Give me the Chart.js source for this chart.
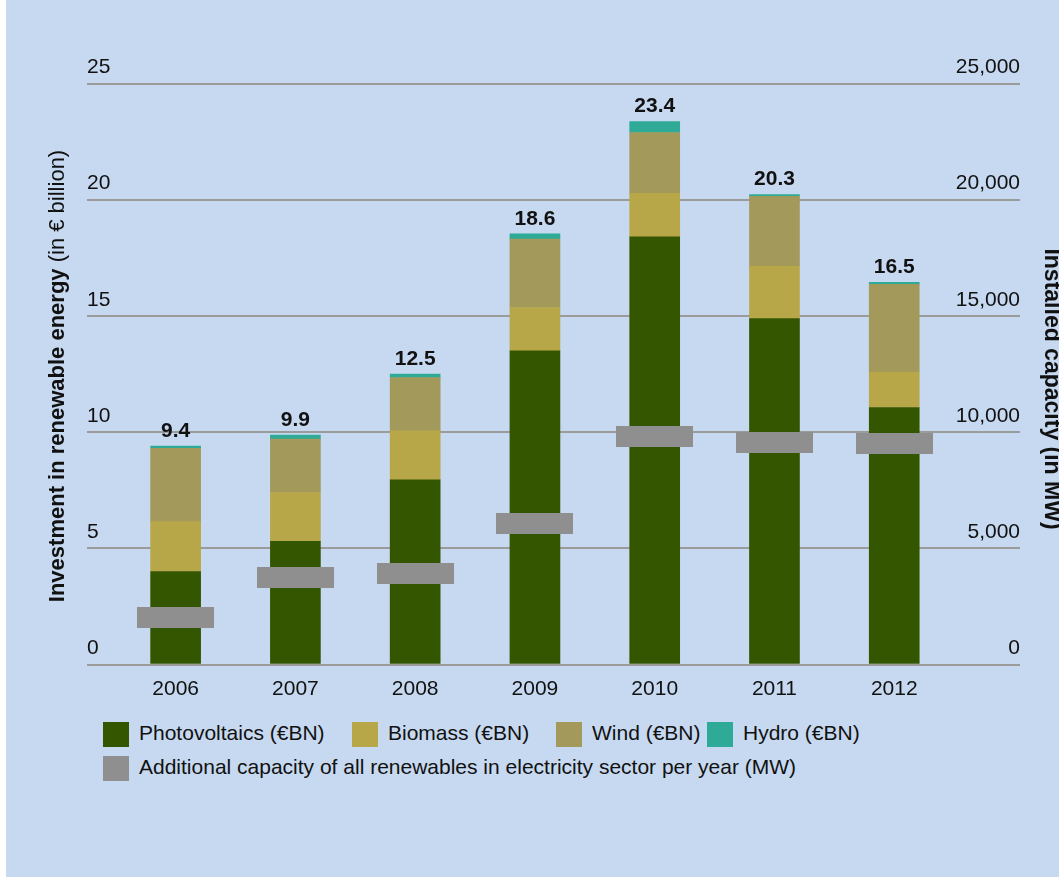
<!DOCTYPE html>
<html>
<head>
<meta charset="utf-8">
<script src="https://cdn.jsdelivr.net/npm/chart.js@4.4.1/dist/chart.umd.min.js"></script>
<style>
  html, body { margin: 0; padding: 0; background: #fff; }
  #wrap { position: absolute; left: 6px; top: 0; width: 1053px; height: 877px; background: #c6d9f0; overflow: hidden; }
  #chart { position: absolute; left: 0; top: 0; }
  .box { position: absolute; width: 26px; height: 25px; }
  .lbl { position: absolute; font: 21px "Liberation Sans", Arial, sans-serif; line-height: 25px; color: #111; white-space: nowrap; }
</style>
</head>
<body>
<div id="wrap">
  <canvas id="chart" width="1053" height="710"></canvas>
  <div id="legend"></div>
</div>
<script>
// data
const years = ["2006", "2007", "2008", "2009", "2010", "2011", "2012"];
const photovoltaics = [4.0, 5.3, 7.95, 13.5, 18.4, 14.89, 11.06];
const biomass = [2.15, 2.1, 2.1, 1.86, 1.87, 2.24, 1.52];
const wind = [3.15, 2.3, 2.3, 2.95, 2.62, 3.01, 3.78];
const hydro = [0.1, 0.17, 0.15, 0.22, 0.47, 0.08, 0.08];
const totals = ["9.4", "9.9", "12.5", "18.6", "23.4", "20.3", "16.5"];
const capacityMW = [2030, 3750, 3920, 6070, 9800, 9570, 9510];

const FONT = '"Liberation Sans", Arial, sans-serif';
const colors = {
    pv: "#345600",
    bio: "#b7a748",
    wind: "#a2995a",
    hydro: "#2eaa96",
    cap: "#8f8f8f"
};

function pts(arr) {
    return arr.map((v, i) => ({ x: i, y: v }));
}

// grey capacity marker
const marker = document.createElement("canvas");
marker.width = 77;
marker.height = 21;
let mctx = marker.getContext("2d");
mctx.fillStyle = colors.cap;
mctx.fillRect(0, 0, 77, 21);

/* -------------------------------
   PLUGINS
---------------------------------*/

const totalsPlugin = {
    id: "totals",
    afterDatasetsDraw(chart) {
        const ctx = chart.ctx;
        const meta = chart.getDatasetMeta(3);
        ctx.save();
        ctx.font = "bold 21px " + FONT;
        ctx.fillStyle = "#111";
        ctx.textAlign = "center";
        ctx.textBaseline = "middle";
        meta.data.forEach((bar, i) => {
            ctx.fillText(totals[i], bar.x, bar.y - 15);
        });
        ctx.restore();
    }
};

const titlesPlugin = {
    id: "titles",
    afterDraw(chart) {
        const ctx = chart.ctx;
        ctx.save();
        ctx.fillStyle = "#111";
        ctx.textBaseline = "middle";
        ctx.textAlign = "left";

        // left title, bold + normal part
        const bold = "Investment in renewable energy";
        const rest = " (in \u20ac billion)";
        ctx.font = "bold 22px " + FONT;
        let w1 = ctx.measureText(bold).width;
        ctx.font = "22px " + FONT;
        let w2 = ctx.measureText(rest).width;
        ctx.translate(51.5, 376);
        ctx.rotate(-Math.PI / 2);
        let x0 = -(w1 + w2) / 2;
        ctx.font = "bold 22px " + FONT;
        ctx.fillText(bold, x0, 0);
        ctx.font = "22px " + FONT;
        ctx.fillText(rest, x0 + w1, 0);
        ctx.restore();

        // right title
        ctx.save();
        ctx.fillStyle = "#111";
        ctx.textBaseline = "middle";
        ctx.textAlign = "center";
        ctx.font = "bold 23px " + FONT;
        ctx.translate(1045, 389);
        ctx.rotate(Math.PI / 2);
        ctx.fillText("Installed capacity (in MW)", 0, 0);
        ctx.restore();
    }
};

/* -------------------------------
   CHART
---------------------------------*/

const tickFont = { family: FONT, size: 21 };

new Chart(document.getElementById("chart"), {
    type: "bar",
    data: {
        datasets: [
            { label: "Photovoltaics (\u20acBN)", data: pts(photovoltaics), backgroundColor: colors.pv, order: 1 },
            { label: "Biomass (\u20acBN)", data: pts(biomass), backgroundColor: colors.bio, order: 1 },
            { label: "Wind (\u20acBN)", data: pts(wind), backgroundColor: colors.wind, order: 1 },
            { label: "Hydro (\u20acBN)", data: pts(hydro), backgroundColor: colors.hydro, order: 1 },
            {
                type: "line",
                label: "Additional capacity of all renewables in electricity sector per year (MW)",
                data: pts(capacityMW),
                yAxisID: "y2",
                showLine: false,
                pointStyle: marker,
                pointRadius: 10,
                order: 0
            }
        ]
    },
    options: {
        responsive: false,
        animation: false,
        barThickness: 50,
        layout: { padding: { left: 81, right: 39, top: 83.5, bottom: 5.5 } },
        plugins: {
            legend: { display: false },
            tooltip: { enabled: false }
        },
        scales: {
            x: {
                type: "linear",
                min: -0.74,
                max: 7.05,
                offset: false,
                stacked: true,
                grid: { display: false },
                border: { display: false },
                afterBuildTicks: s => { s.ticks = years.map((y, i) => ({ value: i })); },
                afterFit: s => { s.height = 40; },
                ticks: {
                    autoSkip: false,
                    maxRotation: 0,
                    padding: 4,
                    color: "#111",
                    font: tickFont,
                    callback: v => years[v]
                }
            },
            y: {
                position: "left",
                stacked: true,
                min: 0,
                max: 25,
                afterFit: s => { s.width = 0; },
                border: { display: false },
                grid: { color: "#9b9b9b", lineWidth: 2, drawTicks: false },
                ticks: {
                    stepSize: 5,
                    mirror: true,
                    padding: 0,
                    labelOffset: -16,
                    color: "#111",
                    font: tickFont
                }
            },
            y2: {
                position: "right",
                min: 0,
                max: 25000,
                afterFit: s => { s.width = 0; },
                border: { display: false },
                grid: { display: false, drawTicks: false },
                ticks: {
                    stepSize: 5000,
                    mirror: true,
                    padding: 0,
                    labelOffset: -16,
                    color: "#111",
                    font: tickFont,
                    callback: v => v.toLocaleString("en-US")
                }
            }
        }
    },
    plugins: [totalsPlugin, titlesPlugin]
});

/* -------------------------------
   LEGEND
---------------------------------*/

const legendItems = [
    { text: "Photovoltaics (\u20acBN)", color: colors.pv, box: 97, top: 722 },
    { text: "Biomass (\u20acBN)", color: colors.bio, box: 346, top: 722 },
    { text: "Wind (\u20acBN)", color: colors.wind, box: 550, top: 722 },
    { text: "Hydro (\u20acBN)", color: colors.hydro, box: 701, top: 722 },
    { text: "Additional capacity of all renewables in electricity sector per year (MW)", color: colors.cap, box: 97, top: 756 }
];

let legend = document.getElementById("legend");
legendItems.forEach(it => {
    let b = document.createElement("div");
    b.className = "box";
    b.style.left = it.box + "px";
    b.style.top = it.top + "px";
    b.style.background = it.color;
    legend.appendChild(b);

    let t = document.createElement("div");
    t.className = "lbl";
    t.style.left = (it.box + 36) + "px";
    t.style.top = (it.top - 2) + "px";
    t.textContent = it.text;
    legend.appendChild(t);
});
</script>
</body>
</html>
